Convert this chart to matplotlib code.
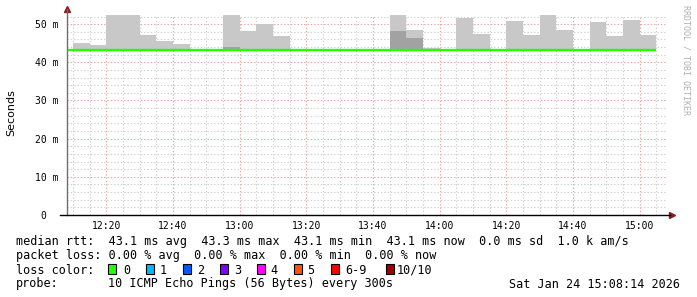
import matplotlib
matplotlib.use('Agg')
import matplotlib.pyplot as plt
from matplotlib.patches import Rectangle
import numpy as np

W, H = 697, 297

# 5 minute bins, start time in minutes after 12:00 (12:05 .. 15:00)
bin_start = np.arange(5, 185, 5)

median_rtt = [43.1, 43.1, 43.1, 43.1, 43.1, 43.1, 43.1, 43.1, 43.1, 43.1,
              43.1, 43.3, 43.3, 43.3, 43.3, 43.1, 43.1, 43.3, 43.1, 43.1,
              43.3, 43.3, 43.1, 43.1, 43.1, 43.1, 43.1, 43.1, 43.1, 43.1,
              43.1, 43.1, 43.1, 43.1, 43.1, 43.1]
smoke_max = [43.2, 45.0, 44.5, 56.0, 56.0, 47.1, 45.5, 44.7, 43.2, 43.2,
             56.0, 48.2, 50.0, 46.8, 43.4, 43.2, 43.2, 43.4, 43.2, 43.2,
             56.0, 48.6, 43.7, 43.2, 51.7, 47.5, 43.2, 50.8, 47.1, 56.0,
             48.4, 43.2, 50.5, 46.9, 51.0, 47.1]
smoke_inner = [43.1, 43.1, 43.1, 43.1, 43.1, 43.1, 43.1, 43.1, 43.1, 43.1,
               43.9, 43.3, 43.3, 43.3, 43.3, 43.1, 43.1, 43.3, 43.1, 43.1,
               48.2, 46.3, 43.1, 43.1, 43.1, 43.1, 43.1, 43.1, 43.1, 43.1,
               43.1, 43.1, 43.6, 43.1, 43.1, 43.1]

tick_min = [20, 40, 60, 80, 100, 120, 140, 160, 180]
tick_lbl = ['12:20', '12:40', '13:00', '13:20', '13:40', '14:00', '14:20', '14:40', '15:00']
y_ticks = [0, 10, 20, 30, 40, 50]
y_lbl = ['0  ', '10 m', '20 m', '30 m', '40 m', '50 m']

loss_names = ['0', '1', '2', '3', '4', '5', '6-9', '10/10']
loss_colors = ['#26ff00', '#00b8ff', '#0059ff', '#7e00ff', '#ff00ff', '#ff5500', '#ff0000', '#a10000']

mono = 'DejaVu Sans Mono'


def fx(x):
    return x / W


def fy(y):
    return 1 - y / H


fig = plt.figure(figsize=(W / 100, H / 100), dpi=100)
ax = fig.add_axes([fx(67), fy(215), (667 - 67) / W, 200 / H])
ax.set_xlim(8.233, 188.233)
ax.set_ylim(0, 52.4)

edges = np.append(bin_start, bin_start[-1] + 5)
med = np.array(median_rtt)

# grid
for v in np.arange(2, 53, 2):
    if v % 10:
        ax.axhline(v, color='#cfcfcf', lw=0.8, ls=(0, (1.2, 1.8)), zorder=0)
for v in np.arange(10, 190, 5):
    if v not in tick_min:
        ax.axvline(v, color='#cfcfcf', lw=0.8, ls=(0, (1.2, 1.8)), zorder=0)
for v in [10, 20, 30, 40, 50]:
    ax.axhline(v, color='#e6a3a3', lw=0.8, ls=(0, (1.2, 1.8)), zorder=0)
for v in tick_min:
    ax.axvline(v, color='#e6a3a3', lw=0.8, ls=(0, (1.2, 1.8)), zorder=0)

# smoke
ax.stairs(smoke_max, edges, baseline=med, fill=True, color='#c8c8c8', zorder=2)
ax.stairs(smoke_inner, edges, baseline=med, fill=True, color='#a2a2a2', zorder=3)
# median line
ax.stairs(med, edges, baseline=None, color='#26ff00', lw=1.7, zorder=4)

for s in ax.spines.values():
    s.set_visible(False)
ax.plot([0, 0], [0, 1.03], transform=ax.transAxes, color='#707070', lw=1, clip_on=False, zorder=5)
ax.plot([-0.012, 1.005], [0, 0], transform=ax.transAxes, color='black', lw=1, clip_on=False, zorder=5)
ax.plot([0], [1.03], marker='^', color='#8b1a1a', ms=4, transform=ax.transAxes, clip_on=False)
ax.plot([1.008], [0], marker='>', color='#8b1a1a', ms=4, transform=ax.transAxes, clip_on=False)

ax.set_xticks(tick_min)
ax.set_xticklabels(tick_lbl, family=mono, fontsize=7)
ax.set_yticks(y_ticks)
ax.set_yticklabels(y_lbl, family=mono, fontsize=7)
ax.tick_params(axis='x', length=0, pad=4)
ax.tick_params(axis='y', length=0, pad=6)

fig.text(fx(11), fy(113), 'Seconds', rotation=90, ha='center', va='center', fontsize=8)
fig.text(fx(686), fy(60), 'RRDTOOL / TOBI OETIKER', rotation=270, ha='center', va='center',
         family=mono, fontsize=6, color='#b0b0b0')

fs = 8.5
fig.text(fx(16), fy(245.5),
         'median rtt:  43.1 ms avg  43.3 ms max  43.1 ms min  43.1 ms now  0.0 ms sd  1.0 k am/s',
         family=mono, fontsize=fs, va='baseline')
fig.text(fx(16), fy(259.5), 'packet loss: 0.00 % avg  0.00 % max  0.00 % min  0.00 % now',
         family=mono, fontsize=fs, va='baseline')
fig.text(fx(16), fy(273.5), 'loss color:', family=mono, fontsize=fs, va='baseline')
box_x = [108.3, 145.7, 182.7, 219.7, 256.7, 293.7, 330.7, 385.7]
lbl_x = [123.3, 160, 197.3, 234, 270.7, 307.3, 345, 397]
for bx, lx, name, c in zip(box_x, lbl_x, loss_names, loss_colors):
    fig.patches.append(Rectangle((fx(bx), fy(274)), 8 / W, 10 / H, transform=fig.transFigure,
                                 facecolor=c, edgecolor='black', lw=0.8))
    fig.text(fx(lx), fy(273.5), name, family=mono, fontsize=fs, va='baseline')
fig.text(fx(16), fy(287.5), 'probe:', family=mono, fontsize=fs, va='baseline')
fig.text(fx(107.6), fy(287.5), '10 ICMP Echo Pings (56 Bytes) every 300s', family=mono,
         fontsize=fs, va='baseline')
fig.text(fx(680), fy(287.5), 'Sat Jan 24 15:08:14 2026', family=mono, fontsize=fs,
         va='baseline', ha='right')

fig.savefig('out.png', dpi=100)
